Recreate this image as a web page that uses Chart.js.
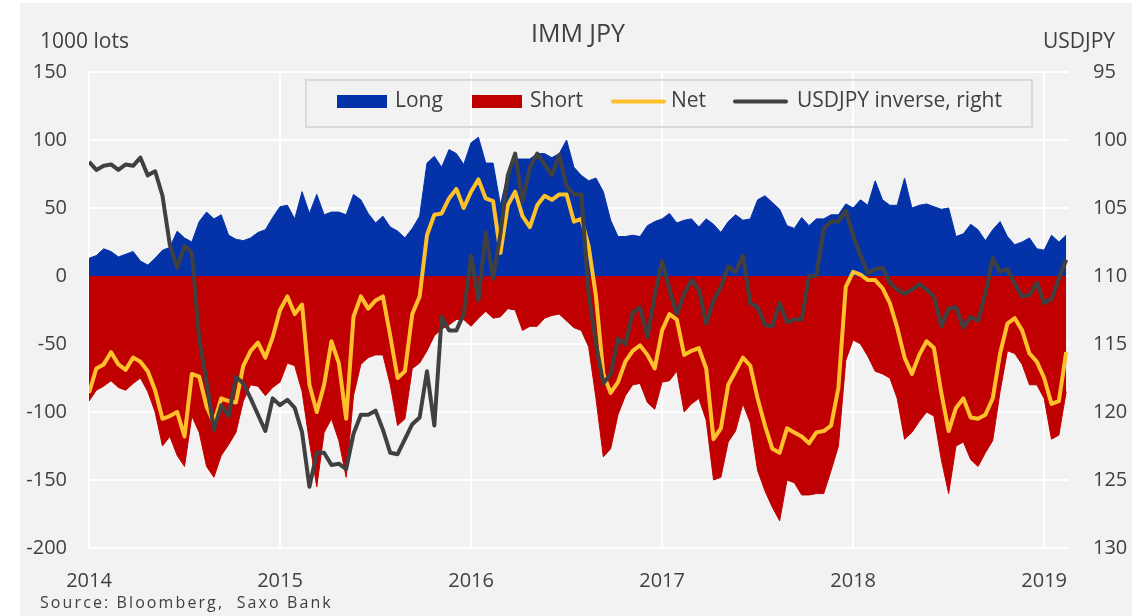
<!DOCTYPE html>
<html>
<head>
<meta charset="utf-8">
<title>IMM JPY</title>
<script src="https://cdn.jsdelivr.net/npm/chart.js@4.4.1/dist/chart.umd.min.js"></script>
<style>
  html, body { margin: 0; padding: 0; background: #fff; }
  #chart { display: block; }
</style>
</head>
<body>
<canvas id="chart" width="1148" height="616"></canvas>
<script>
// IMM JPY positioning, 1000 lots, fortnightly readings from Jan 2014
const years = [2014, 2015, 2016, 2017, 2018, 2019];
const leftTicks = [-200, -150, -100, -50, 0, 50, 100, 150];
const rightTicks = [95, 100, 105, 110, 115, 120, 125, 130];

const longPos = [
  13, 15, 20, 18, 14, 16, 18, 11, 8, 13, 19, 21, 33, 28, 25, 40, 47, 42, 45, 30, 27, 26, 28,
  32, 34, 43, 51, 52, 42, 62, 46, 60, 45, 47, 47, 45, 60, 56, 46, 39, 44, 36, 33, 28, 35, 44,
  83, 88, 80, 93, 90, 82, 98, 102, 83, 83, 52, 76, 86, 86, 86, 90, 90, 87, 90, 100, 80, 74,
  70, 72, 62, 41, 29, 29, 30, 29, 37, 40, 42, 46, 39, 41, 42, 36, 42, 38, 32, 40, 45, 41, 42,
  56, 59, 54, 49, 37, 35, 43, 37, 42, 42, 45, 45, 53, 50, 56, 52, 70, 56, 52, 52, 72, 50,
  52, 53, 51, 49, 50, 29, 31, 38, 34, 26, 34, 40, 29, 23, 25, 28, 20, 19, 30, 25, 30
];
const shortPos = [
  -92, -84, -81, -77, -82, -84, -79, -75, -85, -100, -125, -118, -132, -140, -103, -115, -140, -148, -132, -124, -115, -92, -80,
  -81, -88, -82, -78, -64, -66, -85, -122, -155, -115, -105, -121, -148, -88, -65, -60, -58, -58, -80, -110, -105, -68, -64,
  -55, -44, -39, -36, -32, -32, -37, -31, -26, -31, -30, -24, -25, -40, -37, -37, -31, -29, -28, -33, -38, -40,
  -52, -90, -133, -127, -102, -88, -80, -79, -93, -98, -78, -77, -70, -100, -94, -90, -106, -150, -148, -122, -114, -94, -108,
  -143, -158, -170, -180, -150, -152, -161, -161, -160, -160, -143, -125, -62, -47, -50, -59, -70, -72, -75, -90, -120, -115,
  -107, -100, -103, -135, -160, -125, -122, -135, -140, -130, -121, -85, -55, -57, -65, -80, -80, -90, -120, -117, -85
];
const net = [
  -86, -68, -65, -56, -65, -69, -60, -63, -70, -84, -105, -103, -100, -118, -72, -74, -96, -108, -90, -92, -93, -66, -55,
  -49, -60, -45, -25, -15, -28, -21, -80, -100, -80, -48, -64, -105, -30, -15, -24, -18, -15, -44, -75, -70, -28, -15,
  30, 45, 46, 57, 64, 50, 62, 71, 57, 55, 17, 52, 62, 44, 36, 52, 59, 56, 60, 60, 40, 42,
  22, -15, -72, -86, -78, -63, -55, -51, -58, -68, -40, -28, -32, -58, -55, -53, -68, -120, -112, -80, -70, -60, -66,
  -90, -110, -127, -130, -112, -115, -118, -123, -115, -114, -110, -82, -8, 3, 1, -3, -3, -9, -20, -38, -60, -72,
  -58, -48, -53, -86, -114, -97, -90, -104, -105, -102, -90, -57, -35, -31, -40, -57, -63, -75, -94, -92, -56
];
const usdjpy = [
  101.6, 102.2, 101.9, 101.8, 102.2, 101.8, 101.9, 101.3, 102.6, 102.3, 104.1, 107.7, 109.4, 107.8, 108.3, 114.6, 117.8, 121.3, 119.5, 120.3, 117.4, 117.9, 119.0,
  120.2, 121.4, 119.0, 119.5, 119.1, 119.7, 121.5, 125.5, 123.0, 123.0, 123.9, 123.8, 124.2, 121.6, 120.2, 120.2, 119.9, 121.3, 123.0, 123.1, 122.0, 120.9, 120.4,
  117.0, 121.0, 113.0, 114.0, 114.0, 112.8, 108.5, 111.8, 106.8, 110.2, 106.9, 102.6, 101.0, 104.5, 102.0, 101.0, 101.8, 102.6, 101.1, 103.4, 104.0, 104.0,
  111.3, 115.0, 117.9, 117.2, 114.6, 115.0, 112.7, 112.3, 114.5, 111.4, 108.9, 111.0, 112.8, 111.3, 110.3, 111.0, 113.5, 111.8, 110.8, 109.3, 109.7, 108.5, 112.0,
  112.3, 113.6, 113.7, 112.0, 113.4, 113.2, 113.2, 110.0, 110.0, 106.5, 106.0, 106.0, 105.2, 107.0, 108.5, 109.8, 109.5, 109.4, 110.5, 111.0, 111.3, 111.0,
  110.6, 111.0, 111.5, 113.7, 112.4, 112.3, 113.8, 113.0, 113.3, 111.3, 108.7, 109.7, 109.5, 110.6, 111.5, 111.4, 110.5, 112.0, 111.7, 110.2, 108.8
];

// one reading every two weeks, as decimal years
const dates = longPos.map((_, i) => 2014 + i / 26);
const pts = arr => arr.map((v, i) => ({ x: dates[i], y: v }));

const TEXT = '#404040';
const FONT = "'Open Sans', 'Noto Sans', sans-serif";

const background = {
  id: 'background',
  beforeDraw(chart) {
    const c = chart.ctx;
    c.save();
    c.fillStyle = '#ffffff';
    c.fillRect(0, 0, chart.width, chart.height);
    c.fillStyle = '#f2f2f2';
    c.fillRect(20, 3, 1112, 613);
    c.restore();
  }
};

// texts + legend box drawn over the plot, like the excel original
const extras = {
  id: 'extras',
  afterDraw(chart) {
    const c = chart.ctx;
    c.save();
    c.fillStyle = TEXT;
    c.textBaseline = 'alphabetic';
    c.font = '25px ' + FONT;
    c.textAlign = 'center';
    c.fillText('IMM JPY', 578, 42);
    c.font = '21px ' + FONT;
    c.textAlign = 'left';
    c.fillText('1000 lots', 40, 48);
    c.textAlign = 'right';
    c.fillText('USDJPY', 1115, 48);

    c.textAlign = 'left';
    c.font = '16px ' + FONT;
    c.letterSpacing = '2.1px';
    c.fillText('Source: Bloomberg,  Saxo Bank', 40, 608);
    c.letterSpacing = '0px';

    // legend
    c.strokeStyle = '#d9d9d9';
    c.lineWidth = 2;
    c.strokeRect(306, 80, 726, 47);
    const slots = [[337, 395], [472, 530], [611, 671], [733, 797]];
    c.font = '21px ' + FONT;
    c.textBaseline = 'middle';
    chart.data.datasets.forEach((ds, i) => {
      const [sx, tx] = slots[i];
      if (ds.fill) {
        c.fillStyle = ds.backgroundColor;
        c.fillRect(sx, 95, 50, 13);
      } else {
        c.strokeStyle = ds.borderColor;
        c.lineWidth = 4;
        c.lineCap = 'round';
        c.beginPath();
        c.moveTo(sx + 2, 101.5);
        c.lineTo(sx + 53, 101.5);
        c.stroke();
      }
      c.fillStyle = TEXT;
      c.fillText(ds.label, tx, 101);
    });
    c.restore();
  }
};

new Chart(document.getElementById('chart'), {
  type: 'line',
  data: {
    datasets: [
      { label: 'Long', data: pts(longPos), yAxisID: 'y', fill: 'origin',
        backgroundColor: '#0432a8', borderColor: '#0432a8', borderWidth: 1, order: 4 },
      { label: 'Short', data: pts(shortPos), yAxisID: 'y', fill: 'origin',
        backgroundColor: '#c00000', borderColor: '#c00000', borderWidth: 1, order: 3 },
      { label: 'Net', data: pts(net), yAxisID: 'y', fill: false,
        borderColor: '#ffc12b', borderWidth: 4, order: 2 },
      { label: 'USDJPY inverse, right', data: pts(usdjpy), yAxisID: 'y2', fill: false,
        borderColor: '#404040', borderWidth: 4, order: 1 }
    ]
  },
  options: {
    responsive: false,
    animation: false,
    layout: { padding: { top: 72, left: 0, right: 0, bottom: 0 } },
    elements: {
      point: { radius: 0 },
      line: { tension: 0, borderJoinStyle: 'round' }
    },
    plugins: {
      legend: { display: false },
      tooltip: { enabled: false }
    },
    scales: {
      x: {
        type: 'linear',
        min: 2014,
        max: 2019.13,
        afterBuildTicks: s => { s.ticks = years.map(v => ({ value: v })); },
        afterFit: s => { s.height = 68; },
        ticks: { color: TEXT, font: { family: FONT, size: 20 }, padding: 21,
                 autoSkip: false, maxRotation: 0, callback: v => String(v) },
        grid: { color: '#ffffff', lineWidth: 2, drawTicks: false },
        border: { display: false }
      },
      y: {
        position: 'left',
        min: -200,
        max: 150,
        afterBuildTicks: s => { s.ticks = leftTicks.map(v => ({ value: v })); },
        afterFit: s => { s.width = 89; },
        ticks: { color: TEXT, font: { family: FONT, size: 20 }, padding: 22 },
        grid: { color: '#ffffff', lineWidth: 2, drawTicks: false },
        border: { display: false }
      },
      y2: {
        position: 'right',
        reverse: true,
        min: 95,
        max: 130,
        afterBuildTicks: s => { s.ticks = rightTicks.map(v => ({ value: v })); },
        afterFit: s => { s.width = 79; },
        ticks: { color: TEXT, font: { family: FONT, size: 20 }, padding: 24 },
        grid: { display: false, drawTicks: false },
        border: { display: false }
      }
    }
  },
  plugins: [background, extras]
});
</script>
</body>
</html>
